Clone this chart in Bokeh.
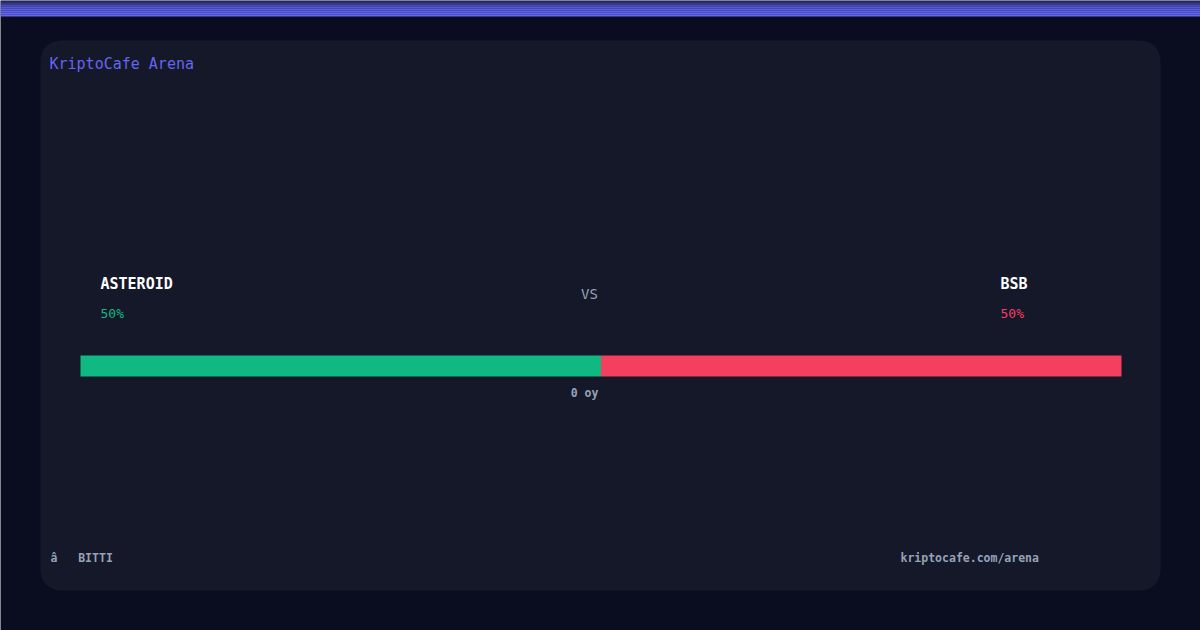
from bokeh.plotting import figure
from bokeh.models import Range1d, BoxAnnotation, ColumnDataSource
from bokeh.core.properties import value
from bokeh.embed import file_html
from bokeh.resources import INLINE

# Match data
title = "KriptoCafe Arena"
sides = ["ASTEROID", "BSB"]
shares = [50, 50]
side_colors = ["#10b981", "#f43f5e"]
duration_label = "0 oy"
status_label = "â\u00a0\u00a0\u00a0BITTI"
site_label = "kriptocafe.com/arena"

W, H = 1200, 630
MONO = value("DejaVu Sans Mono")

p = figure(width=W, height=H, x_range=Range1d(0, W), y_range=Range1d(H, 0),
           output_backend="svg", toolbar_location=None, min_border=0,
           background_fill_color="#0a0c1f", border_fill_color="#0a0c1f")
p.axis.visible = False
p.grid.visible = False
p.outline_line_color = None

# top accent stripe, fading in toward its lower edge
stripe_alphas = [0.3, 0.5, 0.7, 0.85, 0.9, 0.95, 1.0, 1.0]
for i, a in enumerate(stripe_alphas):
    p.add_layout(BoxAnnotation(left=0, right=W, top=i * 2, bottom=i * 2 + 2,
                               fill_color="#6366f1", fill_alpha=a, line_color=None,
                               level="underlay"))

# card panel
p.add_layout(BoxAnnotation(left=40, right=1160, top=40, bottom=590, border_radius=20,
                           fill_color="#151829", fill_alpha=1.0, line_color=None,
                           level="underlay"))

p.text(x=[49], y=[63], text=[title], text_font=MONO, text_font_size="15px",
       text_color="#6366f1", text_baseline="middle", text_align="left")

# side names and percentages
name_x = [100, 1000]
p.text(x=name_x, y=[283, 283], text=sides, text_font=MONO, text_font_size="15px",
       text_font_style="bold", text_color="#ffffff", text_baseline="middle")
p.text(x=name_x, y=[313, 313], text=[f"{s}%" for s in shares], text_font=MONO,
       text_font_size="13px", text_color=side_colors, text_baseline="middle")
p.text(x=[589], y=[293], text=["VS"], text_font=MONO, text_font_size="14px",
       text_color="#94a3b8", text_baseline="middle", text_align="center")

# split bar built from the shares
bar_left, bar_right = 80, 1121
total = sum(shares)
lefts, rights = [], []
cur = bar_left
for s in shares:
    w = (bar_right - bar_left) * s / total
    lefts.append(cur)
    rights.append(cur + w)
    cur += w
src = ColumnDataSource(dict(left=lefts, right=rights, color=side_colors))
p.quad(left="left", right="right", top=355, bottom=376, fill_color="color",
       line_color=None, source=src)

p.text(x=[584], y=[392], text=[duration_label], text_font=MONO, text_font_size="11.5px",
       text_font_style="bold", text_color="#94a3b8", text_baseline="middle",
       text_align="center")

# footer
p.text(x=[50], y=[557], text=[status_label], text_font=MONO, text_font_size="11.5px",
       text_font_style="bold", text_color="#94a3b8", text_baseline="middle")
p.text(x=[900], y=[557], text=[site_label], text_font=MONO, text_font_size="11.5px",
       text_font_style="bold", text_color="#94a3b8", text_baseline="middle")

open("out.html", "w").write(file_html(p, INLINE))
